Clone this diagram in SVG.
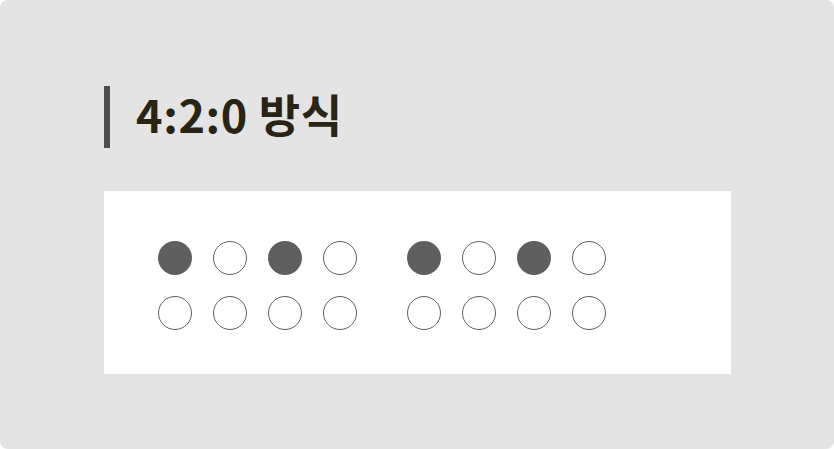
<svg xmlns="http://www.w3.org/2000/svg" width="834" height="449" viewBox="0 0 834 449">
<style>
.f{fill:#5f5f5f;}
.e{fill:#fff;stroke:#5f5f5f;stroke-width:1;}
.t{font-family:"Noto Sans CJK KR","Noto Sans",sans-serif;font-weight:600;font-size:45px;letter-spacing:0.6px;fill:#2a2414;}
</style>
<rect x="0" y="0" width="834" height="449" rx="8" fill="#e4e4e4"/>
<g id="title">
<rect x="104" y="86" width="6" height="62" fill="#4d4d4d"/>
<text class="t" x="136" y="133">4:2:0 방식</text>
</g>
<g id="panel">
<rect x="104" y="191" width="627" height="183" fill="#fff"/>
</g>
<g id="grid-left">
<circle class="f" cx="175" cy="258" r="17"/>
<circle class="e" cx="230" cy="258" r="16.5"/>
<circle class="f" cx="285" cy="258" r="17"/>
<circle class="e" cx="340" cy="258" r="16.5"/>
<circle class="e" cx="175" cy="313" r="16.5"/>
<circle class="e" cx="230" cy="313" r="16.5"/>
<circle class="e" cx="285" cy="313" r="16.5"/>
<circle class="e" cx="340" cy="313" r="16.5"/>
</g>
<g id="grid-right">
<circle class="f" cx="424" cy="258" r="17"/>
<circle class="e" cx="479" cy="258" r="16.5"/>
<circle class="f" cx="534" cy="258" r="17"/>
<circle class="e" cx="589" cy="258" r="16.5"/>
<circle class="e" cx="424" cy="313" r="16.5"/>
<circle class="e" cx="479" cy="313" r="16.5"/>
<circle class="e" cx="534" cy="313" r="16.5"/>
<circle class="e" cx="589" cy="313" r="16.5"/>
</g>
<g id="connectors"/>
</svg>
